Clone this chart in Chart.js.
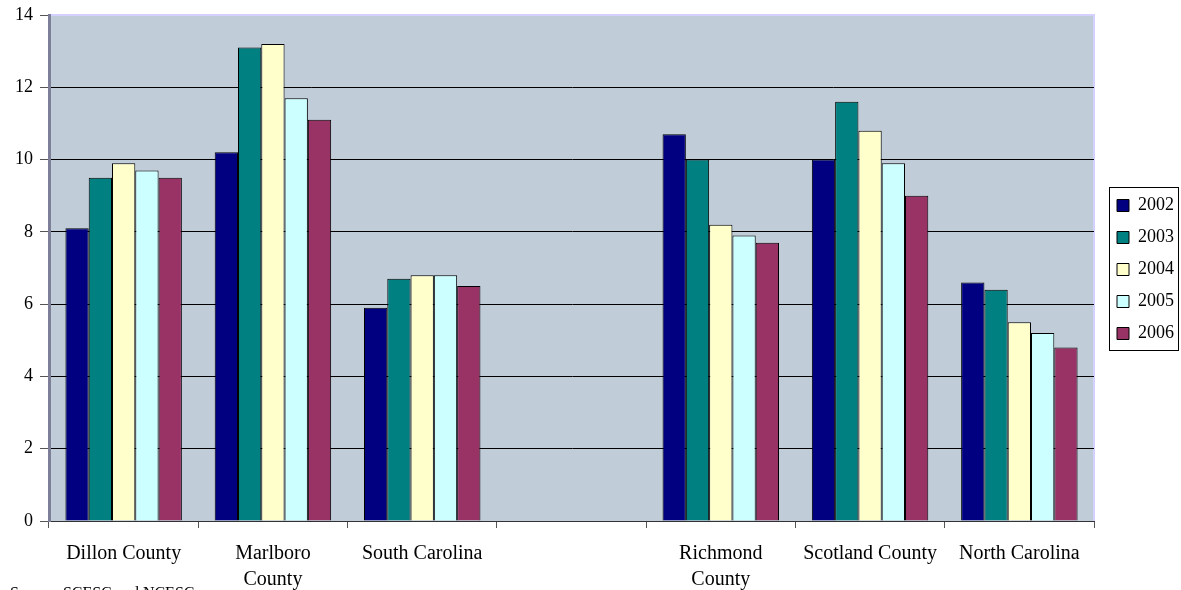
<!DOCTYPE html>
<html>
<head>
<meta charset="utf-8">
<script src="https://cdn.jsdelivr.net/npm/chart.js@4"></script>
<style>
  html, body { margin: 0; padding: 0; background: #fff; overflow: hidden; }
  #wrap { position: relative; width: 1181px; height: 590px; }
  #source {
    position: absolute; left: 10px; top: 585px;
    font-family: "Liberation Serif", "Times New Roman", serif;
    font-size: 16px; line-height: 16px; color: #000; white-space: nowrap;
  }
</style>
</head>
<body>
<div id="wrap">
  <canvas id="chart"></canvas>
  <div id="source">Source: SCESC and NCESC</div>
</div>
<script>
// Categories (the empty one is the gap between the two states)
const areas = ["Dillon County", ["Marlboro", "County"], "South Carolina", "",
    ["Richmond", "County"], "Scotland County", "North Carolina"];

// Values per year
const y2002 = [8.1, 10.2, 5.9, null, 10.7, 10.0, 6.6];
const y2003 = [9.5, 13.1, 6.7, null, 10.0, 11.6, 6.4];
const y2004 = [9.9, 13.2, 6.8, null, 8.2, 10.8, 5.5];
const y2005 = [9.7, 11.7, 6.8, null, 7.9, 9.9, 5.2];
const y2006 = [9.5, 11.1, 6.5, null, 7.7, 9.0, 4.8];

const years = ["2002", "2003", "2004", "2005", "2006"];
const colors = ["#000080", "#008080", "#FFFFCC", "#CCFFFF", "#993366"];
const series = [y2002, y2003, y2004, y2005, y2006];

const serif = "'Liberation Serif', 'Times New Roman', serif";

// Plot background + frame
const plotBackground = {
    id: "plotBackground",
    beforeDraw(chart) {
        const { ctx, chartArea: a } = chart;
        ctx.save();
        ctx.fillStyle = "#C0CCD8";
        ctx.fillRect(a.left, a.top, a.right - a.left, a.bottom - a.top);
        ctx.strokeStyle = "#D4D0FF";
        ctx.lineWidth = 2;
        ctx.beginPath();
        ctx.moveTo(a.left, a.top);
        ctx.lineTo(a.right, a.top);
        ctx.lineTo(a.right, a.bottom);
        ctx.stroke();
        ctx.restore();
    },
};

// Nudge the legend into place, then frame it
const legendFrame = {
    id: "legendFrame",
    afterLayout(chart) {
        const lg = chart.legend;
        lg.left += 9; lg.right += 9;
        lg.top -= 33; lg.bottom -= 33;
    },
    afterDraw(chart) {
        const boxes = chart.legend.legendHitBoxes;
        if (!boxes || !boxes.length) return;
        const left = Math.min(...boxes.map(b => b.left)) - 8;
        const right = Math.max(...boxes.map(b => b.left + b.width)) + 4;
        const first = boxes[0];
        const last = boxes[boxes.length - 1];
        const top = first.top + first.height / 2 - 19;
        const bottom = last.top + last.height / 2 + 16;
        const { ctx } = chart;
        ctx.save();
        ctx.strokeStyle = "#000";
        ctx.lineWidth = 1;
        ctx.strokeRect(Math.round(left) + 0.5, Math.round(top) + 0.5,
            Math.round(right - left), Math.round(bottom - top));
        ctx.restore();
    },
};

new Chart(document.getElementById("chart"), {
    type: "bar",
    data: {
        labels: areas,
        datasets: series.map((vals, i) => ({
            label: years[i],
            data: vals,
            backgroundColor: colors[i],
            borderColor: "#000",
            borderWidth: 1,
            categoryPercentage: 0.78,
            barPercentage: 1.0,
        })),
    },
    options: {
        responsive: true,
        maintainAspectRatio: false,
        animation: false,
        layout: { padding: { top: 15, right: 6, bottom: 0, left: 0 } },
        plugins: {
            tooltip: { enabled: false },
            legend: {
                position: "right",
                labels: {
                    boxWidth: 12,
                    boxHeight: 12,
                    padding: 14,
                    color: "#000",
                    font: { family: serif, size: 18 },
                },
            },
        },
        scales: {
            x: {
                afterFit(scale) { scale.height = 69; },
                grid: {
                    offset: true,
                    drawOnChartArea: false,
                    drawTicks: true,
                    tickLength: 7,
                    color: "#555",
                },
                border: { display: true, color: "#333", width: 1 },
                ticks: {
                    color: "#000",
                    font: { family: serif, size: 20, lineHeight: 1.3 },
                    padding: 13,
                    maxRotation: 0,
                    autoSkip: false,
                },
            },
            y: {
                min: 0,
                max: 14,
                afterFit(scale) {
                    scale.width = 49;
                    scale.paddingTop = 0;
                },
                grid: {
                    color: (c) => (c.tick && c.tick.value === 14 ? "rgba(0,0,0,0)" : "#000"),
                    lineWidth: 1,
                    tickLength: 9,
                    tickColor: "#555",
                },
                border: { display: true, color: "#7D7F98", width: 3 },
                ticks: {
                    stepSize: 2,
                    color: "#000",
                    padding: 7,
                    font: { family: serif, size: 18, lineHeight: 1 },
                },
            },
        },
    },
    plugins: [plotBackground, legendFrame],
});
</script>
</body>
</html>
